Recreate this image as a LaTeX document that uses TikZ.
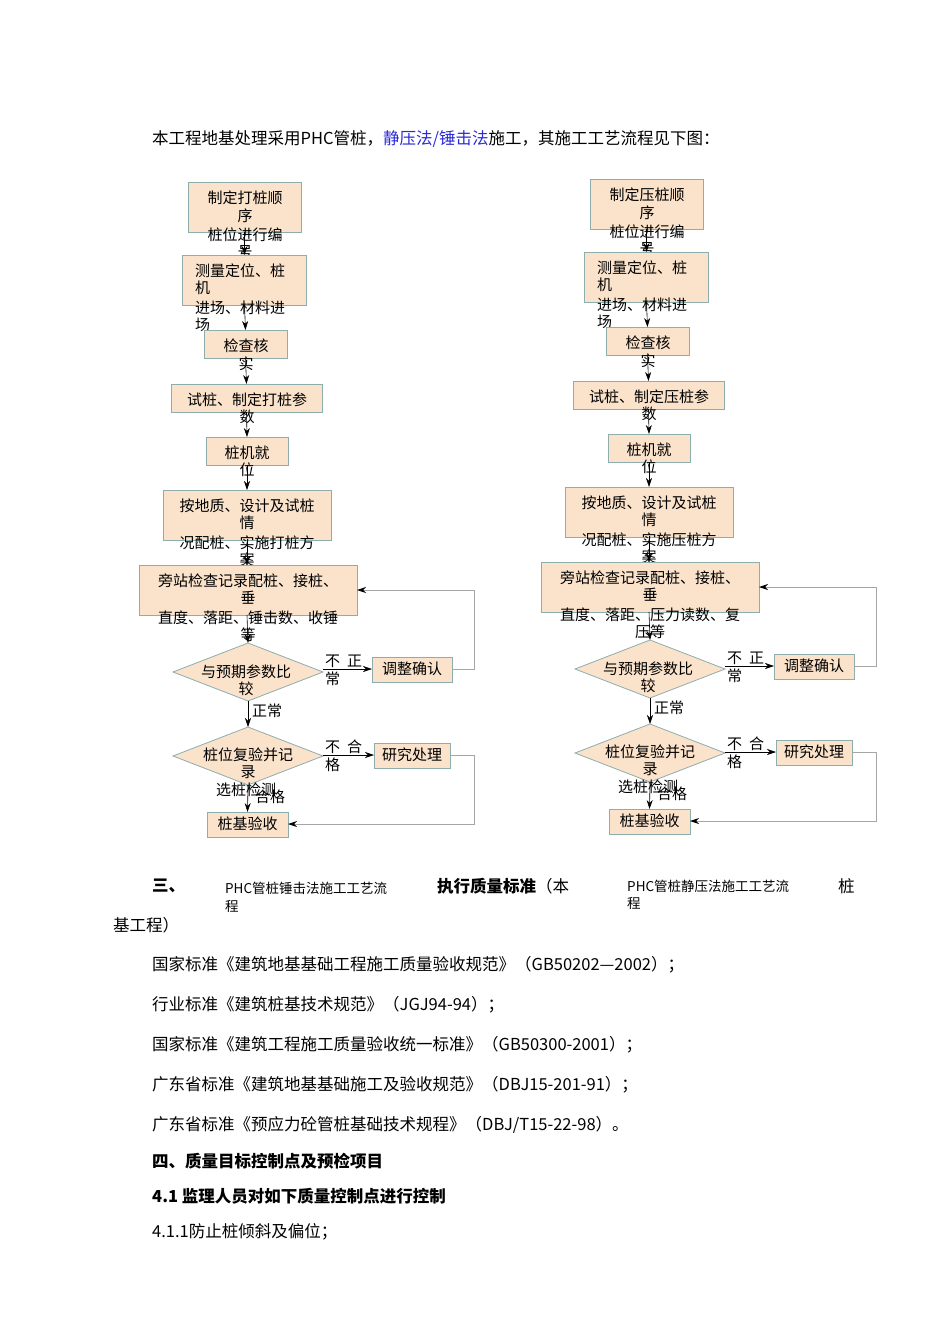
\documentclass[tikz,border=0pt]{standalone}
\usepackage{fontspec}
\setmainfont{Noto Sans CJK SC}
\usetikzlibrary{arrows.meta,shapes.geometric}
\definecolor{boxfill}{HTML}{FBE3CB}
\definecolor{boxline}{HTML}{8DAEAC}
\definecolor{linkblue}{HTML}{2B2BD8}
\tikzset{
  fbox/.style={draw=boxline,fill=boxfill,line width=0.8pt},
  ct/.style={font=\fontsize{15}{15}\selectfont,inner sep=0pt},
  bt/.style={font=\fontsize{16.5}{16.5}\selectfont,inner sep=0pt,anchor=west},
  flow/.style={-{Stealth[length=9pt,width=6pt]},line width=0.6pt},
  back/.style={draw=gray!70,line width=0.8pt,-{Stealth[length=9pt,width=6pt,color=black]}}
}
\newcommand{\pchart}[4]{%
  \path[fbox] (188,182) rectangle (301,232); \coordinate (#1b1t) at (244.5,232);
  \node[ct] at (245,198) {制定#2桩顺};
  \node[ct] at (245,216) {序};
  \node[ct] at (245,235) {桩位进行编};
  \node[ct] at (245,252) {号};
  \path[fbox] (182,255) rectangle (306,305); \coordinate (#1b2t) at (244.5,255); \coordinate (#1b2b) at (244.5,305);
  \node[ct,anchor=west] at (195,271) {测量定位、桩};
  \node[ct,anchor=west] at (195,288) {机};
  \node[ct,anchor=west] at (195,308) {进场、材料进};
  \node[ct,anchor=west] at (195,325) {场};
  \path[fbox] (204,330) rectangle (287,358); \coordinate (#1b3t) at (245.5,330); \coordinate (#1b3b) at (245.5,358);
  \node[ct] at (246,346) {检查核};
  \node[ct] at (246,364) {实};
  \path[fbox] (171,384) rectangle (322,412); \coordinate (#1b4t) at (246.5,384); \coordinate (#1b4b) at (246.5,412);
  \node[ct] at (247,400) {试桩、制定#2桩参};
  \node[ct] at (247,417) {数};
  \path[fbox] (206,437) rectangle (288,465); \coordinate (#1b5t) at (247,437); \coordinate (#1b5b) at (247,465);
  \node[ct] at (247,453) {桩机就};
  \node[ct] at (247,470) {位};
  \path[fbox] (163,490) rectangle (331,540); \coordinate (#1b6t) at (247,490); \coordinate (#1b6b) at (247,540);
  \node[ct] at (247,506) {按地质、设计及试桩};
  \node[ct] at (247,523) {情};
  \node[ct] at (247,543) {况配桩、实施#2桩方};
  \node[ct] at (247,560) {案};
  \path[fbox] (139,565) rectangle (357,615); \coordinate (#1b7t) at (247,565); \coordinate (#1b7b) at (247,615); \coordinate (#1b7r) at (357,590);
  \node[ct] at (248,581) {旁站检查记录配桩、接桩、};
  \node[ct] at (248,598) {垂};
  \node[ct] at (248,618) {#3};
  \node[ct] at (248,635) {#4};
  \path[fbox] (173,672) -- (248,643) -- (323,672) -- (248,701) -- cycle;
  \coordinate (#1d1t) at (248,643); \coordinate (#1d1b) at (248,701); \coordinate (#1d1r) at (323,669);
  \node[ct] at (246,672) {与预期参数比};
  \node[ct] at (246,689) {较};
  \node[ct,anchor=west] at (325,661) {不\hspace{7pt}正};
  \node[ct,anchor=west] at (325,679) {常};
  \path[fbox,line width=0.6pt] (372,657) rectangle (452,682); \coordinate (#1c1l) at (372,669); \coordinate (#1c1r) at (452,669);
  \node[ct] at (412,669) {调整确认};
  \node[ct,anchor=west] at (252,711) {正常};
  \path[fbox] (173,756) -- (248,727) -- (323,756) -- (248,785) -- cycle;
  \coordinate (#1d2t) at (248,727); \coordinate (#1d2b) at (248,785); \coordinate (#1d2r) at (323,755);
  \node[ct] at (248,755) {桩位复验并记};
  \node[ct] at (248,772) {录};
  \node[ct,anchor=west] at (325,747) {不\hspace{7pt}合};
  \node[ct,anchor=west] at (325,765) {格};
  \path[fbox,line width=0.6pt] (374,743) rectangle (450,768); \coordinate (#1c2l) at (374,755); \coordinate (#1c2r) at (450,755);
  \node[ct] at (412,755) {研究处理};
  \node[ct,anchor=west] at (216,790) {选桩检测};
  \node[ct,anchor=west] at (255,797) {合格};
  \path[fbox,line width=0.6pt] (207,812) rectangle (288,837); \coordinate (#1e t) at (247.5,812); \coordinate (#1er) at (288,824);
  \node[ct] at (247.5,824) {桩基验收};
  \draw[flow] (#1b1t) -- (#1b2t);
  \draw[flow] (#1b2b) -- (#1b3t);
  \draw[flow] (#1b3b) -- (#1b4t);
  \draw[flow] (#1b4b) -- (#1b5t);
  \draw[flow] (#1b5b) -- (#1b6t);
  \draw[flow] (#1b6b) -- (#1b7t);
  \draw[flow] (#1b7b) -- (#1d1t);
  \draw[flow] (#1d1b) -- (#1d2t);
  \draw[flow] (#1d2b) -- (#1e t);
  \draw[flow] (#1d1r) -- (#1c1l);
  \draw[flow] (#1d2r) -- (#1c2l);
  \draw[back] (#1c1r) -- (474,669) -- (474,590) -- (#1b7r);
  \draw[back] (#1c2r) -- (474,755) -- (474,824) -- (#1er);
}
\begin{document}
\begin{tikzpicture}[x=1pt,y=-1pt]
\useasboundingbox (0,0) rectangle (950,1344);
\fill[white] (0,0) rectangle (950,1344);
\node[bt] (head) at (152,139) {本工程地基处理采用PHC管桩，{\color{linkblue}\itshape 静压法/锤击法}施工，其施工工艺流程见下图：};
\pchart{L}{打}{直度、落距、锤击数、收锤}{等}
\begin{scope}[shift={(402,-3)}]
\pchart{R}{压}{直度、落距、压力读数、复}{压等}
\end{scope}
\node[bt,font=\fontsize{16.5}{16.5}\selectfont\bfseries] (s3) at (152,886) {三、};
\node[ct,anchor=west,font=\fontsize{13.5}{13.5}\selectfont] (c1) at (225,888) {PHC管桩锤击法施工工艺流};
\node[ct,anchor=west,font=\fontsize{13.5}{13.5}\selectfont] (c1b) at (225,906) {程};
\node[bt,font=\fontsize{16.5}{16.5}\selectfont\bfseries] (s3b) at (437,886) {执行质量标准\textmd{（本}};
\node[ct,anchor=west,font=\fontsize{13.5}{13.5}\selectfont] (c2) at (627,886) {PHC管桩静压法施工工艺流};
\node[ct,anchor=west,font=\fontsize{13.5}{13.5}\selectfont] (c2b) at (627,903) {程};
\node[bt] (z) at (838,886) {桩};
\node[bt] (l0) at (113,925) {基工程）};
\node[bt] (l1) at (152,965) {国家标准《建筑地基基础工程施工质量验收规范》（GB50202—2002）；};
\node[bt] (l2) at (152,1005) {行业标准《建筑桩基技术规范》（JGJ94-94）；};
\node[bt] (l3) at (152,1045) {国家标准《建筑工程施工质量验收统一标准》（GB50300-2001）；};
\node[bt] (l4) at (152,1085) {广东省标准《建筑地基基础施工及验收规范》（DBJ15-201-91）；};
\node[bt] (l5) at (152,1125) {广东省标准《预应力砼管桩基础技术规程》（DBJ/T15-22-98）。};
\node[bt,font=\fontsize{16.5}{16.5}\selectfont\bfseries] (l6) at (152,1161) {四、质量目标控制点及预检项目};
\node[bt,font=\fontsize{16.5}{16.5}\selectfont\bfseries] (l7) at (152,1196) {4.1 监理人员对如下质量控制点进行控制};
\node[bt] (l8) at (152,1232) {4.1.1防止桩倾斜及偏位；};
\end{tikzpicture}
\end{document}
